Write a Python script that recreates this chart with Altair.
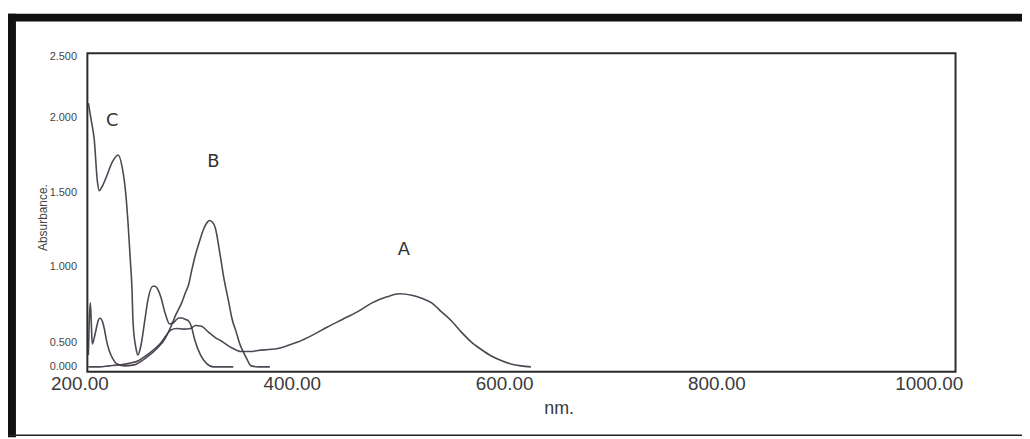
import altair as alt
import pandas as pd

# ---- data (wavelength in nm, absorbance) ----
A_NM = [208.4, 218.7, 228.0, 237.4, 246.7, 256.1, 263.6, 270.1, 276.6, 281.3,
        286.0, 291.6, 298.1, 304.7, 309.3, 315.0, 321.5, 328.0, 333.6, 343.0,
        352.3, 360.7, 368.2, 377.6, 386.9, 396.3, 405.6, 419.6, 433.6, 447.7,
        461.7, 475.7, 489.7, 501.9, 513.1, 522.4, 531.8, 541.1, 550.5, 559.8,
        569.2, 578.5, 587.9, 597.2, 606.5, 615.9, 625.2]
A_ABS = [0.0, 0.0, 0.02, 0.04, 0.07, 0.13, 0.24, 0.35, 0.48, 0.54,
         0.58, 0.59, 0.586, 0.59, 0.61, 0.605, 0.566, 0.53, 0.507, 0.39,
         0.31, 0.31, 0.33, 0.35, 0.37, 0.43, 0.50, 0.546, 0.60, 0.65,
         0.70, 0.76, 0.80, 0.82, 0.81, 0.79, 0.76, 0.70, 0.64, 0.566,
         0.50, 0.35, 0.22, 0.13, 0.06, 0.02, 0.0]

B_NM = [208.4, 209.3, 210.3, 211.2, 212.1, 214.0, 215.9, 217.8, 219.6, 221.5,
        223.4, 225.2, 228.0, 231.8, 234.6, 242.1, 251.4, 260.7, 267.3, 274.8,
        280.4, 286.0, 290.7, 296.3, 300.0, 302.8, 305.6, 309.3, 313.1, 316.8,
        319.6, 322.4, 325.2, 328.0, 332.7, 336.4, 340.2, 343.9, 347.7, 351.4,
        354.2, 357.9, 361.7, 368.2, 379.4]
B_ABS = [0.24, 0.65, 0.76, 0.62, 0.46, 0.53, 0.59, 0.645, 0.66, 0.64,
         0.59, 0.52, 0.33, 0.15, 0.07, 0.02, 0.04, 0.15, 0.26, 0.41,
         0.52, 0.60, 0.68, 0.76, 0.83, 0.88, 0.97, 1.08, 1.17, 1.25,
         1.29, 1.31, 1.30, 1.26, 1.07, 0.91, 0.78, 0.65, 0.566, 0.44,
         0.31, 0.15, 0.02, 0.0, 0.0]

C_NM = [208.4, 211.2, 214.0, 216.8, 218.7, 221.5, 225.2, 230.8, 236.4, 240.2,
        243.9, 245.8, 247.7, 249.5, 250.5, 253.3, 255.1, 257.9, 261.7, 264.5,
        269.2, 271.0, 272.9, 276.6, 280.4, 285.0, 288.8, 293.5, 296.3, 300.0,
        302.8, 305.6, 308.4, 314.0, 319.6, 326.2, 344.9]
C_ABS = [2.12, 1.98, 1.85, 1.58, 1.51, 1.54, 1.60, 1.70, 1.75, 1.67,
         1.47, 1.29, 1.07, 0.85, 0.63, 0.37, 0.24, 0.43, 0.65, 0.78,
         0.87, 0.87, 0.86, 0.80, 0.70, 0.62, 0.63, 0.66, 0.66, 0.65,
         0.64, 0.60, 0.52, 0.24, 0.07, 0.0, 0.0]

LABELS = ["A", "B", "C"]
LABEL_NM = [505.6, 326.2, 230.8]
LABEL_ABS = [1.11, 1.70, 1.98]

X_TICKS = [200, 400, 600, 800, 1000]
Y_TICKS = [0.0, 0.5, 1.0, 1.5, 2.0, 2.5]

# ---- tables ----
rows = []
for name, xs, ys in (("A", A_NM, A_ABS), ("B", B_NM, B_ABS), ("C", C_NM, C_ABS)):
    for xv, yv in zip(xs, ys):
        rows.append({"series": name, "nm": xv, "abs": yv})
df = pd.DataFrame(rows)
lab_df = pd.DataFrame({"label": LABELS, "nm": LABEL_NM, "abs": LABEL_ABS})
one = pd.DataFrame({"k": [0]})

W, H = 875, 321
FONT = "Liberation Sans"

x_scale = alt.Scale(domain=X_TICKS[:1] + X_TICKS[-1:], range=[-8, 848], nice=False, zero=False)
y_scale = alt.Scale(domain=Y_TICKS, range=[316, 291, 215, 140, 65, 3], nice=False, zero=False)

x_enc = alt.X("nm:Q", scale=x_scale, axis=alt.Axis(
    values=X_TICKS, format=".2f", labelFont=FONT, labelFontSize=19,
    labelColor="#3a3a3a", labelPadding=3, labelFlush=False, labelOverlap=False,
    ticks=False, domain=False, grid=False,
    title="nm.", titleFont=FONT, titleFontSize=18, titleFontWeight="normal",
    titleColor="#3a3a3a", titleX=475, titleY=42, titleBaseline="alphabetic"))
y_enc = alt.Y("abs:Q", scale=y_scale, axis=alt.Axis(
    values=Y_TICKS, format=".3f", labelFont=FONT, labelFontSize=11,
    labelColor="#444444", labelPadding=11, labelFlush=False, labelOverlap=False,
    ticks=False, domain=False, grid=False,
    title="Absurbance.", titleFont=FONT, titleFontSize=12, titleFontWeight="normal",
    titleColor="#444444", titleX=-41, titleY=165, titleBaseline="alphabetic"))

lines = alt.Chart(df).mark_line(
    color="#3b3340", strokeWidth=1.6, interpolate="monotone", opacity=0.9
).encode(x=x_enc, y=y_enc, detail="series:N")

labels = alt.Chart(lab_df).mark_text(
    font="DejaVu Sans", fontSize=18, color="#333333", align="center", baseline="middle"
).encode(x=x_enc, y=y_enc, text="label:N")

# outer black frame of the figure
top_bar = alt.Chart(one).mark_rule(color="#111111", strokeWidth=8).encode(
    x=alt.value(-80), x2=alt.value(950), y=alt.value(-36))
left_bar = alt.Chart(one).mark_rule(color="#111111", strokeWidth=8).encode(
    x=alt.value(-76), y=alt.value(-40), y2=alt.value(387))
bottom_line = alt.Chart(one).mark_rule(color="#222222", strokeWidth=1.5).encode(
    x=alt.value(-80), x2=alt.value(950), y=alt.value(385))

chart = alt.layer(lines, labels, top_bar, left_bar, bottom_line).properties(
    width=W, height=H,
    autosize=alt.AutoSizeParams(type="none"),
    padding={"left": 80, "top": 44, "right": 67, "bottom": 66},
    background="white",
).configure_view(stroke="#2b2b2b", strokeWidth=2)

chart.save("out.html", embed_options={"renderer": "svg", "actions": False})
